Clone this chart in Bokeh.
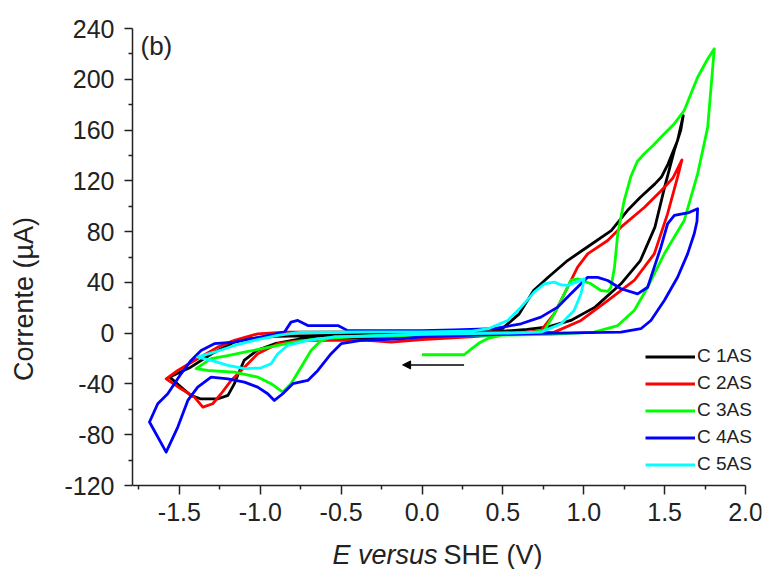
from bokeh.plotting import figure
from bokeh.models import Range1d, FixedTicker, Label, Arrow, NormalHead, Legend, LegendItem
from bokeh.embed import file_html
from bokeh.resources import INLINE

FONT = "Liberation Sans"
TXT = "#222222"

# ---------------- data (E vs SHE in V, current in uA) ----------------
c1_v = [0.0, 0.3, 0.5, 0.65, 0.78, 0.92, 1.07, 1.23, 1.35, 1.44, 1.50, 1.56, 1.60, 1.615,
        1.58, 1.52, 1.48, 1.44, 1.35, 1.27, 1.17, 1.02, 0.90, 0.78, 0.69, 0.60, 0.50, 0.40,
        0.20, 0.0, -0.3, -0.6, -0.75, -0.91, -1.02, -1.10, -1.14, -1.16, -1.20, -1.26,
        -1.37, -1.43, -1.49, -1.56, -1.50, -1.43, -1.30, -1.16, -1.08, -0.9, -0.5, 0.0]
c1_i = [0.5, 1.0, 1.5, 3.0, 5.0, 10.0, 20.5, 38.9, 57.2, 83.5, 115.0, 144.0, 160.0, 171.4,
        151.7, 133.0, 123.0, 117.6, 107.0, 96.6, 80.8, 67.7, 57.2, 44.0, 33.6, 15.0, 4.0, 0.0,
        -2.0, -3.0, -3.5, -4.0, -4.4, -8.3, -13.6, -21.5, -33.3, -39.8, -49.0, -51.7,
        -51.7, -49.0, -42.5, -34.6, -31.0, -26.8, -16.2, -7.0, -4.4, -2.5, -1.5, 0.5]

c2_v = [0.0, 0.4, 0.6, 0.818, 0.983, 1.148, 1.312, 1.436, 1.518, 1.58, 1.607,
        1.55, 1.477, 1.374, 1.23, 1.148, 1.024, 0.962, 0.88, 0.818, 0.735, 0.6, 0.3, 0.0,
        -0.19, -0.336, -0.748, -0.892, -1.016, -1.098, -1.18, -1.242, -1.294, -1.355,
        -1.407, -1.49, -1.582, -1.51, -1.407, -1.263, -1.16, -1.016, -0.851, -0.4, 0.0]
c2_i = [1.0, 1.0, 0.5, 0.8, 10.0, 25.7, 41.5, 62.5, 94.0, 123.0, 136.5,
        122.0, 112.0, 99.0, 83.5, 73.0, 62.5, 52.0, 31.0, 15.3, 2.0, 0.0, -3.0, -5.0,
        -7.0, -5.7, -5.7, -8.3, -16.2, -26.8, -37.2, -47.7, -55.6, -58.3,
        -50.4, -43.8, -36.0, -29.4, -21.5, -11.0, -5.7, -0.5, 0.8, 1.0, 1.0]

c3_v = [0.0, 0.26, 0.30, 0.35, 0.41, 0.50, 0.65, 0.756, 0.818, 0.88, 0.92, 0.962, 1.0,
        1.045, 1.106, 1.15, 1.168, 1.19, 1.21, 1.25, 1.29, 1.33, 1.374, 1.43, 1.477, 1.56,
        1.621, 1.704, 1.766, 1.807, 1.766, 1.704, 1.621, 1.498, 1.395, 1.312, 1.21, 1.065,
        0.8, 0.3, -0.3, -0.542, -0.624, -0.686, -0.748, -0.81, -0.861, -0.933, -1.016,
        -1.16, -1.325, -1.397, -1.304, -1.2, -1.098, -0.995, -0.892, -0.789, -0.644, -0.3, 0.0]
c3_i = [-17.0, -17.0, -13.0, -8.0, -4.0, -1.5, 0.0, 2.0, 15.3, 31.0, 41.5, 42.8, 41.0,
        38.9, 33.6, 33.0, 36.0, 52.0, 78.3, 104.5, 123.0, 135.0, 141.3, 148.0, 154.3, 165.0,
        175.4, 201.6, 216.0, 224.0, 162.0, 125.5, 88.7, 62.5, 36.2, 17.9, 6.0, 0.8,
        -1.0, -2.0, -2.5, -3.0, -5.7, -13.6, -26.8, -39.8, -46.5, -39.8, -34.6,
        -30.7, -29.4, -28.0, -20.0, -17.6, -15.0, -12.3, -9.7, -7.0, -4.4, -2.0, -1.0]

c4_v = [0.0, 0.2, 0.447, 0.612, 0.735, 0.839, 0.92, 0.983, 1.024, 1.086, 1.148, 1.23, 1.333,
        1.395, 1.436, 1.477, 1.518, 1.56, 1.65, 1.704, 1.70, 1.683, 1.642, 1.58, 1.498, 1.415,
        1.353, 1.23, 0.82, 0.5, 0.0, -0.13, -0.377, -0.5, -0.562, -0.644, -0.706, -0.799,
        -0.861, -0.913, -0.954, -1.016, -1.098, -1.2, -1.304, -1.387, -1.448, -1.51, -1.582,
        -1.685, -1.634, -1.572, -1.49, -1.428, -1.366, -1.284, -1.16, -0.995, -0.851, -0.81,
        -0.768, -0.706, -0.583, -0.52, -0.459, -0.2, 0.0]
c4_i = [2.0, 2.5, 3.5, 7.4, 12.6, 20.5, 31.0, 38.9, 44.0, 44.0, 41.5, 35.0, 31.0,
        36.2, 52.0, 67.7, 86.0, 92.7, 95.0, 98.0, 88.0, 78.3, 62.5, 44.0, 25.7, 10.0,
        3.5, 0.8, 0.0, -1.0, -3.0, -4.4, -5.7, -8.3, -16.2, -29.4, -37.2, -39.8,
        -47.7, -53.0, -47.7, -42.5, -38.6, -36.0, -34.6, -42.5, -53.0, -74.0, -93.7,
        -70.0, -55.6, -47.7, -32.0, -21.5, -13.6, -8.3, -7.0, -3.0, 0.8, 8.7,
        10.0, 6.0, 6.0, 6.0, 2.0, 2.0, 2.0]

c5_v = [0.0, 0.3, 0.41, 0.53, 0.612, 0.694, 0.756, 0.818, 0.86, 0.90, 0.95, 1.003, 0.983,
        0.94, 0.86, 0.735, 0.5, 0.0, -0.54, -0.706, -0.83, -0.892, -0.933, -0.995, -1.098,
        -1.2, -1.304, -1.387, -1.284, -1.16, -1.036, -0.892, -0.748, -0.3, 0.0]
c5_i = [1.0, 1.5, 3.5, 10.0, 20.5, 32.3, 38.9, 40.2, 38.0, 37.6, 40.0, 42.8, 31.0,
        17.9, 7.4, 0.8, 0.0, -1.0, -3.0, -5.7, -9.7, -16.2, -24.1, -27.3, -28.0,
        -25.4, -21.5, -18.9, -15.0, -9.7, -5.7, -1.8, 0.8, 1.0, 1.0]

series_names = ["C 1AS", "C 2AS", "C 3AS", "C 4AS", "C 5AS"]
series_colors = ["#000000", "#FF0000", "#00FF00", "#0000FF", "#00FFFF"]
series_v = [c1_v, c2_v, c3_v, c4_v, c5_v]
series_i = [c1_i, c2_i, c3_i, c4_i, c5_i]

x_ticks = [-1.5, -1.0, -0.5, 0.0, 0.5, 1.0, 1.5, 2.0]
x_tick_labels = ["-1.5", "-1.0", "-0.5", "0.0", "0.5", "1.0", "1.5", "2.0"]
x_minor = [-1.75, -1.25, -0.75, -0.25, 0.25, 0.75, 1.25, 1.75]
y_ticks = [-120, -80, -40, 0, 40, 80, 120, 160, 200, 240]
y_tick_labels = ["-120", "-80", "-40", "0", "40", "80", "120", "160", "200", "240"]
y_minor = [-100, -60, -20, 20, 60, 100, 140, 180, 220]
x_lo, x_hi = -1.79, 2.0
y_lo, y_hi = -120, 240

arrow_x = [0.26, -0.12]
arrow_y = [-25.0, -25.0]

# ---------------- figure ----------------
# frame spans down to the bottom of the canvas; the x axis is pinned at y = -120
W, H = 765, 569
p = figure(width=W, height=H, output_backend="svg", toolbar_location=None,
           x_range=Range1d(-1.79, 2.0989), y_range=Range1d(-186.17, 240),
           min_border_left=132, min_border_right=4, min_border_top=28, min_border_bottom=0)
p.outline_line_color = None
p.xgrid.visible = False
p.ygrid.visible = False

items = []
for name, col, vv, ii in zip(series_names, series_colors, series_v, series_i):
    r = p.line(vv, ii, line_color=col, line_width=2.8, line_join="round")
    items.append(LegendItem(label=name, renderers=[r]))

for ax in (p.xaxis[0], p.yaxis[0]):
    ax.axis_line_width = 1.5
    ax.axis_line_color = TXT
    ax.major_tick_line_width = 1.5
    ax.minor_tick_line_width = 1.5
    ax.major_tick_line_color = TXT
    ax.minor_tick_line_color = TXT
    ax.major_tick_in = 0
    ax.major_tick_out = 9
    ax.minor_tick_in = 0
    ax.minor_tick_out = 4
    ax.major_label_text_font = FONT
    ax.major_label_text_font_size = "25px"
    ax.major_label_text_color = TXT
    ax.axis_label_text_font = FONT
    ax.axis_label_text_font_size = "27px"
    ax.axis_label_text_font_style = "normal"
    ax.axis_label_text_color = TXT

p.xaxis.fixed_location = y_lo
p.xaxis.bounds = (x_lo, x_hi)
p.yaxis.bounds = (y_lo, y_hi)
p.xaxis.ticker = FixedTicker(ticks=x_ticks, minor_ticks=x_minor)
p.yaxis.ticker = FixedTicker(ticks=y_ticks, minor_ticks=y_minor)
p.xaxis.major_label_overrides = {t: s for t, s in zip(x_ticks, x_tick_labels)}
p.yaxis.major_label_overrides = {t: s for t, s in zip(y_ticks, y_tick_labels)}
p.xaxis.major_label_standoff = 8
p.yaxis.major_label_standoff = 10
p.yaxis.major_tick_out = 8
p.yaxis.axis_label = "Corrente (\u00b5A)"
p.yaxis.axis_label_standoff = 22

# x-axis title with italic part
p.add_layout(Label(x=200, y=15, x_units="screen", y_units="screen", text="E versus",
                   text_font=FONT, text_font_size="27px", text_font_style="italic",
                   text_color=TXT, text_align="left", text_baseline="alphabetic"))
p.add_layout(Label(x=311, y=15, x_units="screen", y_units="screen", text="SHE (V)",
                   text_font=FONT, text_font_size="27px", text_font_style="normal",
                   text_color=TXT, text_align="left", text_baseline="alphabetic"))

# panel tag
p.add_layout(Label(x=8, y=524, x_units="screen", y_units="screen", text="(b)",
                   text_font=FONT, text_font_size="26px", text_color=TXT,
                   text_align="left", text_baseline="alphabetic"))

# scan direction arrow
p.add_layout(Arrow(x_start=arrow_x[0], y_start=arrow_y[0], x_end=arrow_x[1], y_end=arrow_y[1],
                   line_color="black", line_width=1.5,
                   end=NormalHead(size=8, fill_color="black", line_color="black")))

legend = Legend(items=items, location=(513, 94), border_line_color=None,
                background_fill_alpha=0, padding=0, margin=0, spacing=5,
                glyph_width=50, glyph_height=21, label_height=21, label_standoff=2,
                label_text_font=FONT, label_text_font_size="19px", label_text_color=TXT)
p.add_layout(legend)

open("out.html", "w").write(file_html(p, INLINE))
